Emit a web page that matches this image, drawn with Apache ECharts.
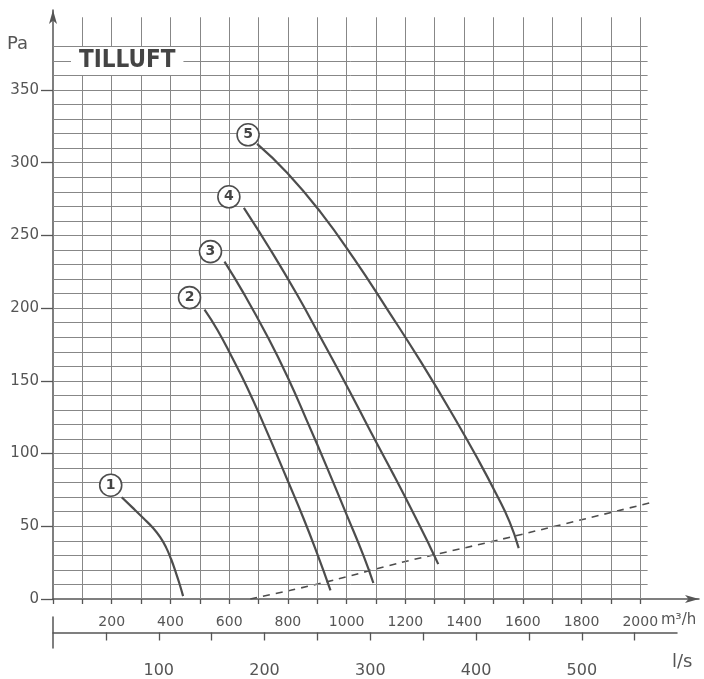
<!DOCTYPE html>
<html><head><meta charset="utf-8">
<script src="https://cdn.jsdelivr.net/npm/echarts@6/dist/echarts.min.js"></script>
<style>html,body{margin:0;padding:0;background:#fff}#c{width:704px;height:679px}</style>
</head><body><div id="c"></div>
<script>
// Data (m³/h, Pa)
const curve1 = [[234,70],[270,63],[308,55.5],[340,49],[365,42.5],[385,35.5],[402,27.5],[417,19],[430,11],[443,2]];
const curve2 = [[516,199],[560,185],[610,166],[660,146],[720,119],[798,82],[854,55],[900,31],[945,6]];
const curve3 = [[584,232],[650,210],[729,181],[798,153],[866,122],[934,90],[1002,57],[1059,29],[1091,11]];
const curve4 = [[650,269],[741,240],[832,209],[911,180],[1002,146],[1082,115],[1161,85],[1230,58],[1284,36],[1312,24]];
const curve5 = [[695,313],[798,293],[911,266],[1025,234],[1139,199],[1253,163],[1366,125],[1450,95],[1510,72],[1555,53],[1586,35]];
const systemCurve = [[672,0],[809,6],[956,13],[1184,25],[1526,41],[2031,66]];
const curveNames = ['1','2','3','4','5'];
const xTickValues = [0,100,200,300,400,500,600,700,800,900,1000,1100,1200,1300,1400,1500,1600,1700,1800,1900,2000];
const xLabelValues = [200,400,600,800,1000,1200,1400,1600,1800,2000];
const yLabelValues = [0,50,100,150,200,250,300,350];
const lsTickValues = [50,100,150,200,250,300,350,400,450,500,550];
const lsLabelValues = [100,200,300,400,500];
const hGridValues = [10,20,30,40,50,60,70,80,90,100,110,120,130,140,150,160,170,180,190,200,210,220,230,240,250,260,270,280,290,300,310,320,330,340,350,360,370,380];
const vGridValues = [100,200,300,400,500,600,700,800,900,1000,1100,1200,1300,1400,1500,1600,1700,1800,1900,2000];

const labelOffsets = [[-11,-12],[-15,-12],[-14,-10],[-15,-11],[-9,-9]];
const FONT = 'DejaVu Sans';
const TXT = '#555';
const GRIDC = '#878787';
const LINEC = '#4d4d4d';

const gridLines = [];
hGridValues.forEach(v => gridLines.push([{coord:[0,v]},{coord:[2025,v]}]));
vGridValues.forEach(v => gridLines.push([{coord:[v,0]},{coord:[v,400]}]));

const curves = [curve1, curve2, curve3, curve4, curve5];
const series = [{
  type:'line', xAxisIndex:0, yAxisIndex:0, data:[], silent:true,
  markLine:{silent:true, symbol:['none','none'], animation:false, label:{show:false},
    lineStyle:{color:GRIDC, width:1, type:'solid'}, emphasis:{disabled:true}, data:gridLines}
}];
curves.forEach((c,i) => {
  series.push({
    type:'line', xAxisIndex:0, yAxisIndex:0, data:c, smooth:0.5,
    showSymbol:false, symbol:'none', z:5,
    lineStyle:{color:LINEC, width:2.2},
    markPoint:{
      symbol:'circle', symbolSize:22, symbolOffset:labelOffsets[i], animation:false, silent:true,
      itemStyle:{color:'#fff', borderColor:LINEC, borderWidth:1.6},
      label:{show:true, position:'inside', formatter:curveNames[i], color:'#444', fontSize:14, fontWeight:'bold', fontFamily:FONT},
      data:[{coord:c[0]}]
    }
  });
});
series.push({type:'line', xAxisIndex:0, yAxisIndex:0, data:systemCurve, smooth:0.3,
  showSymbol:false, symbol:'none', z:4,
  lineStyle:{color:LINEC, width:1.6, type:[7,6]}});

const option = {
  animation:false,
  backgroundColor:'#fff',
  title:{text:'TILLUFT', left:71, top:47, padding:[2,8], backgroundColor:'#fff',
    textStyle:{fontSize:24, fontWeight:'bold', color:'#444', fontFamily:'"DejaVu Sans Condensed", "DejaVu Sans"', lineHeight:24}},
  grid:[
    {left:53, right:5, top:10, bottom:80},
    {left:53, width:624, top:617, height:41}
  ],
  xAxis:[
    {type:'value', gridIndex:0, min:0, max:2200, interval:100,
      axisLine:{show:true, onZero:false, symbol:['none','arrow'], symbolSize:[6,14], lineStyle:{color:'#555', width:1.5}},
      axisTick:{show:true, length:5, customValues:xTickValues, lineStyle:{color:'#555', width:1.3}},
      axisLabel:{customValues:xLabelValues, margin:16, color:TXT, fontSize:14, fontFamily:FONT,
        formatter: v => (v%200===0 && v>0 && v<=2000) ? String(v) : ''},
      splitLine:{show:false}},
    {type:'value', gridIndex:1, min:0, max:590, interval:50,
      axisLine:{show:true, onZero:true, lineStyle:{color:'#555', width:1.5}},
      axisTick:{show:true, length:8, customValues:lsTickValues, lineStyle:{color:'#555', width:1.3}},
      axisLabel:{customValues:lsLabelValues, margin:15, color:TXT, fontSize:16, fontFamily:FONT,
        formatter: v => (v%100===0 && v>0 && v<=500) ? String(v) : ''},
      splitLine:{show:false}}
  ],
  yAxis:[
    {type:'value', gridIndex:0, min:0, max:405, interval:50,
      axisLine:{show:true, symbol:['none','arrow'], symbolSize:[6,14], lineStyle:{color:'#555', width:1.5}},
      axisTick:{show:true, length:12, customValues:yLabelValues, lineStyle:{color:'#555', width:1.3}},
      axisLabel:{customValues:yLabelValues, margin:14, color:TXT, fontSize:15, fontFamily:FONT,
        formatter: v => (v%50===0 && v<=350) ? String(v) : ''},
      splitLine:{show:false}},
    {type:'value', gridIndex:1, min:-1, max:1,
      axisLine:{show:true, lineStyle:{color:'#555', width:1.5}},
      axisTick:{show:false}, axisLabel:{show:false}, splitLine:{show:false}}
  ],
  graphic:[
    {type:'text', left:7, top:35, style:{text:'Pa', fill:TXT, font:'18px "DejaVu Sans"'}},
    {type:'text', left:661, top:613, style:{text:'m³/h', fill:TXT, font:'15px "DejaVu Sans"'}},
    {type:'text', left:672, top:653, style:{text:'l/s', fill:TXT, font:'18px "DejaVu Sans"'}}
  ],
  series: series
};
const chart = echarts.init(document.getElementById('c'), null, {renderer:'canvas'});
chart.setOption(option);
</script>
</body></html>
